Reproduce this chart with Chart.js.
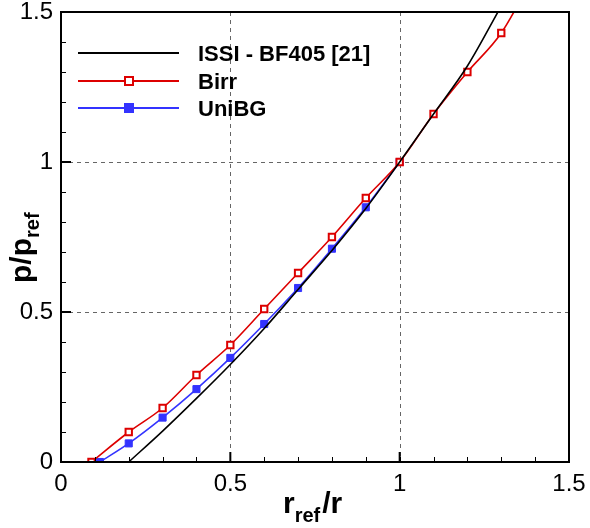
<!DOCTYPE html>
<html>
<head>
<meta charset="utf-8">
<script src="https://cdn.jsdelivr.net/npm/chart.js@4"></script>
<style>
  html, body { margin: 0; padding: 0; background: #fff; }
  #wrap { width: 590px; height: 528px; }
</style>
</head>
<body>
<div id="wrap"><canvas id="chart"></canvas></div>
<script>
// ISSI - BF405 [21] (reference curve, no markers)
const issiX = [0.2, 0.3, 0.4, 0.5, 0.6, 0.7, 0.8, 0.9, 1.0, 1.1, 1.2, 1.3];
const issiY = [0, 0.103, 0.212, 0.325, 0.445, 0.575, 0.705, 0.845, 1.0, 1.16, 1.32, 1.52];

// Birr
const birrX = [0.09, 0.2, 0.3, 0.4, 0.5, 0.6, 0.7, 0.8, 0.9, 1.0, 1.1, 1.2, 1.3, 1.4];
const birrY = [0, 0.1, 0.18, 0.29, 0.39, 0.51, 0.63, 0.75, 0.88, 1.0, 1.16, 1.30, 1.43, 1.63];

// UniBG
const unibgX = [0.115, 0.2, 0.3, 0.4, 0.5, 0.6, 0.7, 0.8, 0.9, 1.0];
const unibgY = [0, 0.062, 0.148, 0.243, 0.347, 0.46, 0.58, 0.711, 0.849, 1.0];

const xTicks = [0, 0.5, 1, 1.5];
const yTicks = [0, 0.5, 1, 1.5];
const xTickLabels = ['0', '0.5', '1', '1.5'];
const yTickLabels = ['0', '0.5', '1', '1.5'];
const minorStep = 0.1;

const FONT = '"Liberation Sans", Arial, sans-serif';

function pts(xs, ys) {
    return xs.map((x, i) => ({ x: x, y: ys[i] }));
}

// axes, dashed grid, inward ticks, titles and legend
const framePlugin = {
    id: 'frame',
    beforeDatasetsDraw(chart) {
        const ctx = chart.ctx, a = chart.chartArea;
        const xs = chart.scales.x, ys = chart.scales.y;
        ctx.save();
        ctx.strokeStyle = '#666';
        ctx.lineWidth = 1;
        ctx.setLineDash([4, 4]);
        xTicks.slice(1, -1).forEach(v => {
            const px = Math.round(xs.getPixelForValue(v)) + 0.5;
            ctx.beginPath(); ctx.moveTo(px, a.top); ctx.lineTo(px, a.bottom); ctx.stroke();
        });
        yTicks.slice(1, -1).forEach(v => {
            const py = Math.round(ys.getPixelForValue(v)) + 0.5;
            ctx.beginPath(); ctx.moveTo(a.left, py); ctx.lineTo(a.right, py); ctx.stroke();
        });
        ctx.restore();
    },
    afterDraw(chart) {
        const ctx = chart.ctx, a = chart.chartArea;
        const xs = chart.scales.x, ys = chart.scales.y;
        ctx.save();
        ctx.setLineDash([]);
        ctx.strokeStyle = '#000';

        // minor ticks
        ctx.lineWidth = 1;
        for (let v = minorStep; v < 1.5 - 1e-6; v += minorStep) {
            const px = Math.round(xs.getPixelForValue(v)) + 0.5;
            ctx.beginPath(); ctx.moveTo(px, a.bottom); ctx.lineTo(px, a.bottom - 5); ctx.stroke();
            const py = Math.round(ys.getPixelForValue(v)) + 0.5;
            ctx.beginPath(); ctx.moveTo(a.left, py); ctx.lineTo(a.left + 5, py); ctx.stroke();
        }
        // major ticks
        ctx.lineWidth = 2;
        xTicks.forEach(v => {
            const px = xs.getPixelForValue(v);
            ctx.beginPath(); ctx.moveTo(px, a.bottom); ctx.lineTo(px, a.bottom - 10); ctx.stroke();
        });
        yTicks.forEach(v => {
            const py = ys.getPixelForValue(v);
            ctx.beginPath(); ctx.moveTo(a.left, py); ctx.lineTo(a.left + 10, py); ctx.stroke();
        });
        // frame
        ctx.lineWidth = 2;
        ctx.strokeRect(a.left, a.top, a.right - a.left, a.bottom - a.top);

        // tick labels
        ctx.fillStyle = '#000';
        ctx.font = '24px ' + FONT;
        ctx.textAlign = 'center';
        ctx.textBaseline = 'middle';
        xTicks.forEach((v, i) => ctx.fillText(xTickLabels[i], xs.getPixelForValue(v), a.bottom + 22));
        ctx.textAlign = 'right';
        yTicks.forEach((v, i) => ctx.fillText(yTickLabels[i], a.left - 8, ys.getPixelForValue(v)));

        // x title: r_ref / r
        ctx.textAlign = 'left';
        ctx.textBaseline = 'alphabetic';
        let x = 283;
        ctx.font = 'bold 30px ' + FONT;
        ctx.fillText('r', x, 513); x += ctx.measureText('r').width;
        ctx.font = 'bold 20px ' + FONT;
        ctx.fillText('ref', x, 522); x += ctx.measureText('ref').width + 2;
        ctx.font = 'bold 30px ' + FONT;
        ctx.fillText('/r', x, 513);

        // y title: p / p_ref (rotated)
        ctx.save();
        ctx.translate(31, 283);
        ctx.rotate(-Math.PI / 2);
        x = 0;
        ctx.font = 'bold 30px ' + FONT;
        ctx.fillText('p/p', x, 0); x += ctx.measureText('p/p').width;
        ctx.font = 'bold 20px ' + FONT;
        ctx.fillText('ref', x, 8);
        ctx.restore();

        // legend
        const rows = [53, 81, 108];
        chart.data.datasets.forEach((ds, i) => {
            const ry = rows[i];
            ctx.strokeStyle = ds.borderColor;
            ctx.lineWidth = 2;
            ctx.beginPath(); ctx.moveTo(78, ry); ctx.lineTo(179, ry); ctx.stroke();
            if (ds.pointRadius > 0) {
                const r = 4;
                if (ds.pointBackgroundColor === '#fff') {
                    ctx.fillStyle = '#fff';
                    ctx.fillRect(129 - r, ry - r, 2 * r, 2 * r);
                    ctx.strokeRect(129 - r, ry - r, 2 * r, 2 * r);
                } else {
                    ctx.fillStyle = ds.pointBackgroundColor;
                    ctx.fillRect(129 - r - 1, ry - r - 1, 2 * r + 2, 2 * r + 2);
                }
            }
            ctx.fillStyle = '#000';
            ctx.font = 'bold 22px ' + FONT;
            ctx.fillText(ds.label, 198, ry + 8);
        });
        ctx.restore();
    }
};

const ctx = document.getElementById('chart').getContext('2d');
new Chart(ctx, {
    type: 'scatter',
    data: {
        datasets: [{
            label: 'ISSI - BF405 [21]',
            data: pts(issiX, issiY),
            showLine: true,
            borderColor: '#000',
            borderWidth: 1.6,
            pointRadius: 0,
            cubicInterpolationMode: 'monotone',
            clip: 0
        }, {
            label: 'Birr',
            data: pts(birrX, birrY),
            showLine: true,
            borderColor: '#dd0000',
            borderWidth: 1.6,
            pointStyle: 'rect',
            pointRadius: 4.5,
            pointBorderWidth: 2,
            pointBackgroundColor: '#fff',
            pointBorderColor: '#dd0000',
            cubicInterpolationMode: 'monotone',
            clip: 0
        }, {
            label: 'UniBG',
            data: pts(unibgX, unibgY),
            showLine: true,
            borderColor: '#3333ff',
            borderWidth: 1.6,
            pointStyle: 'rect',
            pointRadius: 5,
            pointBorderWidth: 1,
            pointBackgroundColor: '#3333ff',
            pointBorderColor: '#3333ff',
            cubicInterpolationMode: 'monotone',
            clip: 0
        }]
    },
    options: {
        responsive: true,
        maintainAspectRatio: false,
        animation: false,
        layout: { padding: { left: 61, right: 21, top: 12, bottom: 66 } },
        plugins: { legend: { display: false }, tooltip: { enabled: false } },
        scales: {
            x: { type: 'linear', min: 0, max: 1.5, display: false },
            y: { type: 'linear', min: 0, max: 1.5, display: false }
        }
    },
    plugins: [framePlugin]
});
</script>
</body>
</html>
